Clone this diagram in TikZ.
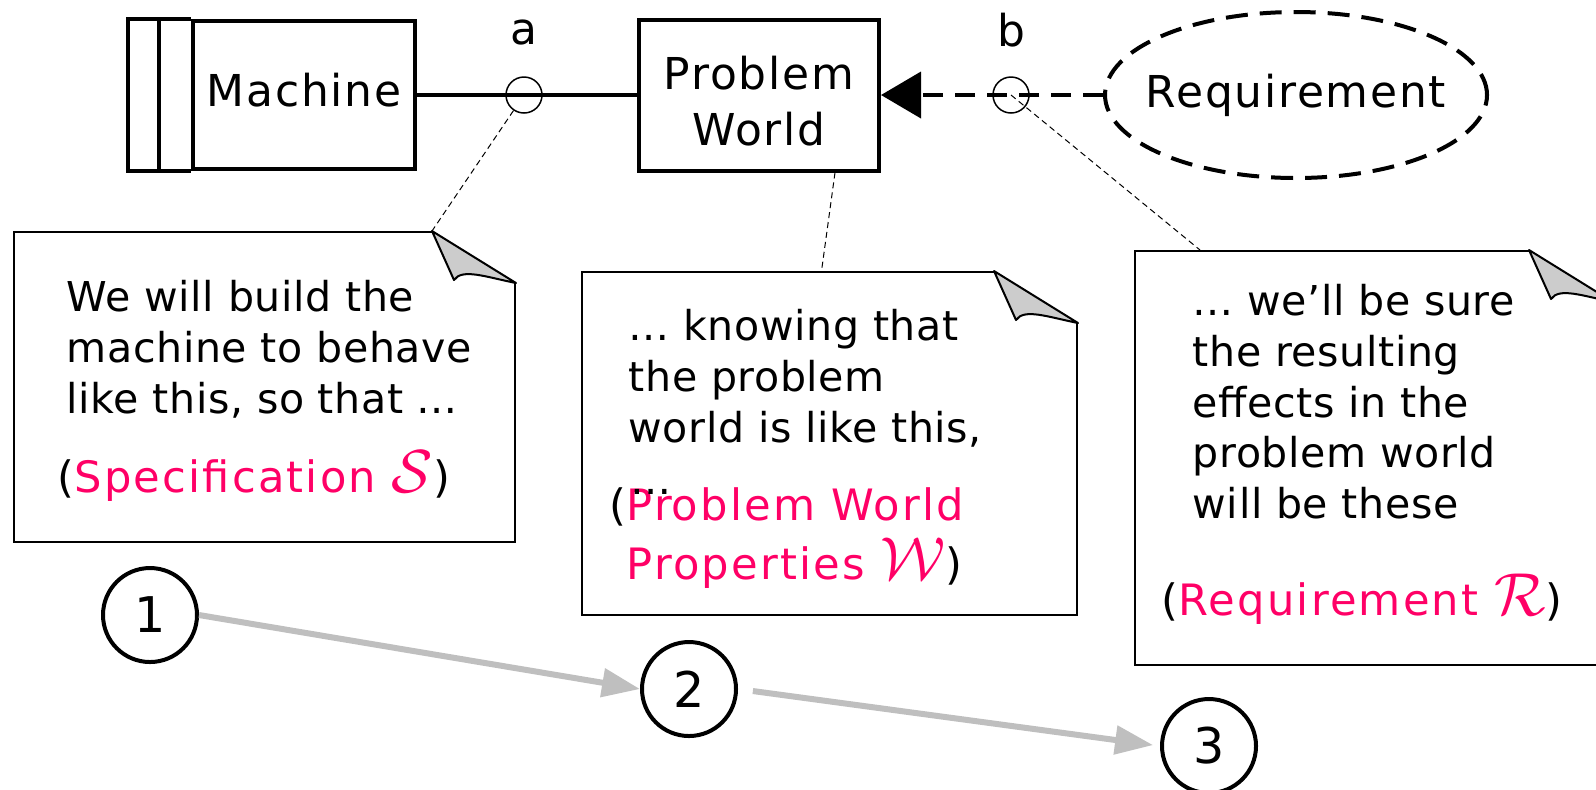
\documentclass[tikz,border=0pt]{standalone}
\usepackage{fontspec}
\setmainfont{DejaVu Sans}[LetterSpace=4]
\newfontfamily\notefamily{DejaVu Sans}[LetterSpace=1.5]
\newfontfamily\termfamily{DejaVu Sans}[LetterSpace=5]
\usepackage{tikz}
\usetikzlibrary{arrows.meta,positioning,shapes.geometric}

\definecolor{termpink}{RGB}{255,0,102}
\definecolor{flapgray}{RGB}{204,204,204}
\definecolor{stepgray}{RGB}{191,191,191}

\newcommand{\labelsize}{\fontsize{12.5}{15.9}\selectfont}
\newcommand{\notesize}{\notefamily\fontsize{11.7}{14.4}\selectfont}
\newcommand{\termsize}{\termfamily\fontsize{12.3}{16.8}\selectfont}
\newcommand{\termsym}[1]{{\fontsize{16}{16}\selectfont$\mathcal{#1}$}}

% folded top right corner of a note
\newcommand{\dogear}[1]{%
  \fill[white] ([xshift=-8.4mm]#1.north east) -- ([shift={(0.4mm,0.4mm)}]#1.north east) -- ([yshift=-5.2mm]#1.north east) -- cycle;
  \draw[fold] ([xshift=-8.4mm]#1.north east) -- ([xshift=-6.2mm,yshift=-4.9mm]#1.north east)
    .. controls +(0.8mm,1.2mm) and +(-3mm,0.6mm) .. ([yshift=-5.2mm]#1.north east) -- cycle;
}

\begin{document}
\begin{tikzpicture}[
  x=0.1mm, y=-0.1mm,
  worldbox/.style={rectangle, draw=black, line width=0.4mm, font=\labelsize, align=center},
  reqbox/.style={ellipse, draw=black, line width=0.4mm, dash pattern=on 2.2mm off 1.2mm, font=\labelsize, minimum width=37.2mm, minimum height=16.6mm, inner xsep=-1.5mm, inner ysep=0pt},
  port/.style={circle, draw=black, line width=0.15mm, minimum size=3.6mm, inner sep=0pt},
  portlabel/.style={font=\labelsize, inner sep=0pt},
  note/.style={rectangle, draw=black, line width=0.2mm, inner sep=0pt},
  notetext/.style={anchor=north west, inner sep=0pt, align=left, font=\notesize},
  term/.style={inner sep=0pt, align=left, font=\termsize, text=termpink},
  stepnum/.style={circle, draw=black, line width=0.4mm, minimum size=9.4mm, inner sep=0pt, font=\fontsize{14}{16}\selectfont},
  link/.style={line width=0.4mm},
  reqlink/.style={line width=0.4mm, dash pattern=on 2mm off 1.2mm, -{Triangle[length=4mm, width=4.6mm]}},
  leader/.style={line width=0.1mm, dash pattern=on 0.6mm off 0.4mm},
  steparrow/.style={line width=0.6mm, draw=stepgray, -{Triangle[length=3.8mm, width=2.8mm, fill=stepgray]}},
  fold/.style={draw=black, line width=0.2mm, fill=flapgray, line join=round}
]
\useasboundingbox (0,0) rectangle (1596,789);

\node[worldbox, minimum width=22.2mm, minimum height=14.8mm] (machine) at (304,95) {\raisebox{0.5mm}[\height][\depth]{Machine}};
\draw[link] (machine.north west) -- ++(-63,0) |- (machine.south west);
\draw[link] ([xshift=-3.2mm]machine.north west) -- ([xshift=-3.2mm]machine.south west);
\node[worldbox, minimum width=24mm, minimum height=15.1mm] (pw) at (759,95) {\raisebox{-0.65mm}[\height][\depth]{Problem}\\\raisebox{-0.65mm}[\height][\depth]{World}};
\node[reqbox] (req) at (1296,95) {Requirement};

\draw[link] (machine.east) -- (pw.west);
\draw[reqlink] (req.west) -- (pw.east);
\node[port] (pa) at (524,95) {};
\node[port] (pb) at (1011,95) {};
\node[portlabel, above=3mm of pa] (la) {a};
\node[portlabel, above=2.8mm of pb] (lb) {b};

\node[note, minimum width=50.1mm, minimum height=31mm] (n1) at (264.5,387) {};
\node[note, minimum width=49.5mm, minimum height=34.3mm] (n2) at (829.5,443.5) {};
\node[note, minimum width=47.7mm, minimum height=41.4mm] (n3) at (1373.5,458) {};
\dogear{n1}
\dogear{n2}
\dogear{n3}

\node[notetext] (s1) at ([xshift=5.3mm, yshift=-4.9mm]n1.north west) {We will build the\\machine to behave\\like this, so that …};
\node[term, anchor=base west] (t1) at ([xshift=6.1mm, yshift=-26.1mm]n1.north west) {\llap{\textcolor{black}{(}}Specification \termsym{S}\textcolor{black}{)}};
\node[notetext] (s2) at ([xshift=4.7mm, yshift=-3.8mm]n2.north west) {… knowing that\\the problem\\world is like this,};
\node[term, anchor=north west] (t2) at ([xshift=4.5mm, yshift=-21.6mm]n2.north west) {\llap{\textcolor{black}{(}}Pr\llap{\raisebox{2.6mm}{\textcolor{black}{\notesize …}}}oblem World\\Properties \termsym{W}\textcolor{black}{)}};
\node[notetext] (s3) at ([xshift=5.8mm, yshift=-3.4mm]n3.north west) {… we’ll be sure\\the resulting\\effects in the\\problem world\\will be these};
\node[term, anchor=base west] (t3) at ([xshift=4.4mm, yshift=-36.5mm]n3.north west) {\llap{\textcolor{black}{(}}Requirement \termsym{R}\textcolor{black}{)}};

\draw[leader] (pa) -- ([xshift=-8.4mm]n1.north east);
\draw[leader] ([xshift=7.6mm]pw.south) -- ([xshift=-0.8mm]n2.north);
\draw[leader] (pb.center) -- ([xshift=6.6mm]n3.north west);

\node[stepnum] (c1) at (150,615) {1};
\node[stepnum] (c2) at (689,689) {2};
\node[stepnum] (c3) at (1209,746) {3};
\draw[steparrow] (c1.east) -- (c2.west);
\draw[steparrow, shorten <=1.5mm, shorten >=0.7mm] (c2.east) -- (c3.west);
\end{tikzpicture}
\end{document}
